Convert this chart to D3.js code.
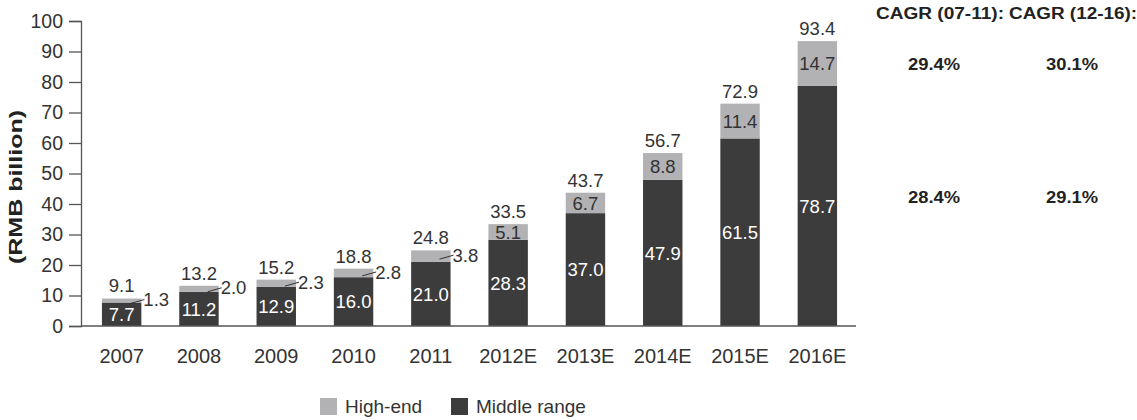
<!DOCTYPE html>
<html>
<head>
<meta charset="utf-8">
<script src="https://cdn.jsdelivr.net/npm/d3@7"></script>
<style>
  body { margin: 0; background: #fff; }
  text { font-family: "Liberation Sans", Arial, sans-serif; }
</style>
</head>
<body>
<div id="chart"></div>
<script>
// stacked bars: middle range + high-end, RMB billion
var years = ['2007','2008','2009','2010','2011','2012E','2013E','2014E','2015E','2016E'];
var middle = [7.7, 11.2, 12.9, 16.0, 21.0, 28.3, 37.0, 47.9, 61.5, 78.7];
var highEnd = [1.3, 2.0, 2.3, 2.8, 3.8, 5.1, 6.7, 8.8, 11.4, 14.7];
var totals = [9.1, 13.2, 15.2, 18.8, 24.8, 33.5, 43.7, 56.7, 72.9, 93.4];
var yTicks = [0,10,20,30,40,50,60,70,80,90,100];
var cagrHeads = ['CAGR (07-11):', 'CAGR (12-16):'];
var cagrHigh = ['29.4%', '30.1%'];
var cagrMid = ['28.4%', '29.1%'];

var width = 1137, height = 420;
var darkCol = '#3c3c3c', greyCol = '#b2b2b5', textCol = '#333';
var fontFam = '"Liberation Sans", Arial, sans-serif';

var svg = d3.select('#chart').append('svg')
    .attr('width', width)
    .attr('height', height);

var x = d3.scaleBand()
    .domain(years)
    .range([83, 856])
    .paddingInner(0.49)
    .paddingOuter(0.245);

var y = d3.scaleLinear()
    .domain([0, 100])
    .range([326, 21]);

// y axis
var yAxis = svg.append('g')
    .attr('transform', 'translate(81,0)')
    .call(d3.axisLeft(y).tickValues(yTicks).tickSize(12).tickPadding(6));
yAxis.select('.domain').attr('stroke', '#555').attr('stroke-width', 1.3);
yAxis.selectAll('.tick line').attr('stroke', '#555').attr('stroke-width', 1.3);
yAxis.selectAll('.tick text')
    .attr('fill', textCol)
    .style('font-size', '19.5px')
    .style('font-family', fontFam);

svg.append('text')
    .attr('transform', 'translate(22,187) rotate(-90)')
    .attr('text-anchor', 'middle')
    .attr('fill', '#222')
    .attr('textLength', 154)
    .attr('lengthAdjust', 'spacingAndGlyphs')
    .style('font-size', '18px')
    .style('font-weight', 'bold')
    .text('(RMB billion)');

// bars
var g = svg.append('g');
years.forEach(function(yr, i) {
    var bx = x(yr), bw = x.bandwidth();
    g.append('rect')
        .attr('x', bx).attr('width', bw)
        .attr('y', y(middle[i])).attr('height', y(0) - y(middle[i]))
        .attr('fill', darkCol);
    g.append('rect')
        .attr('x', bx).attr('width', bw)
        .attr('y', y(middle[i] + highEnd[i])).attr('height', y(middle[i]) - y(middle[i] + highEnd[i]))
        .attr('fill', greyCol);

    // middle value inside dark part
    g.append('text')
        .attr('x', bx + bw / 2)
        .attr('y', (y(0) + y(middle[i])) / 2)
        .attr('dy', '0.36em')
        .attr('text-anchor', 'middle')
        .attr('fill', '#fff')
        .style('font-size', '18.5px')
        .text(middle[i].toFixed(1));

    // high-end value: inside if big enough, else outside with a leader line
    var segMid = (y(middle[i]) + y(middle[i] + highEnd[i])) / 2;
    if (highEnd[i] >= 5) {
        g.append('text')
            .attr('x', bx + bw / 2)
            .attr('y', segMid)
            .attr('dy', '0.36em')
            .attr('text-anchor', 'middle')
            .attr('fill', textCol)
            .style('font-size', '18.5px')
            .text(highEnd[i].toFixed(1));
    } else {
        g.append('line')
            .attr('x1', bx + bw * 0.72).attr('y1', segMid + 3)
            .attr('x2', bx + bw + 3).attr('y2', segMid - 1)
            .attr('stroke', '#333').attr('stroke-width', 1);
        g.append('text')
            .attr('x', bx + bw + 2)
            .attr('y', segMid - 1)
            .attr('dy', '0.36em')
            .attr('fill', textCol)
            .style('font-size', '18.5px')
            .text(highEnd[i].toFixed(1));
    }

    // total above bar
    g.append('text')
        .attr('x', bx + bw / 2)
        .attr('y', y(totals[i]) - 6)
        .attr('text-anchor', 'middle')
        .attr('fill', textCol)
        .style('font-size', '18.5px')
        .text(totals[i].toFixed(1));
});

// x axis
var xAxis = svg.append('g')
    .attr('transform', 'translate(0,326)')
    .call(d3.axisBottom(x).tickSize(0).tickPadding(23));
xAxis.select('.domain').attr('stroke', '#555').attr('stroke-width', 1.3)
    .attr('d', 'M81,0H856');
xAxis.selectAll('.tick text')
    .attr('fill', textCol)
    .style('font-size', '20px')
    .style('font-family', fontFam);

// CAGR columns
var headX = [940, 1073], valX = [934, 1072];
cagrHeads.forEach(function(h, i) {
    svg.append('text')
        .attr('x', headX[i]).attr('y', 19)
        .attr('text-anchor', 'middle')
        .attr('fill', '#222')
        .attr('textLength', 128)
        .attr('lengthAdjust', 'spacingAndGlyphs')
        .style('font-size', '16px').style('font-weight', 'bold')
        .text(h);
    svg.append('text')
        .attr('x', valX[i]).attr('y', 70)
        .attr('text-anchor', 'middle')
        .attr('fill', '#222')
        .attr('textLength', 52)
        .attr('lengthAdjust', 'spacingAndGlyphs')
        .style('font-size', '16px').style('font-weight', 'bold')
        .text(cagrHigh[i]);
    svg.append('text')
        .attr('x', valX[i]).attr('y', 203)
        .attr('text-anchor', 'middle')
        .attr('fill', '#222')
        .attr('textLength', 52)
        .attr('lengthAdjust', 'spacingAndGlyphs')
        .style('font-size', '16px').style('font-weight', 'bold')
        .text(cagrMid[i]);
});

// legend
var legend = [['High-end', greyCol, 320], ['Middle range', darkCol, 451]];
legend.forEach(function(l) {
    svg.append('rect')
        .attr('x', l[2]).attr('y', 398)
        .attr('width', 17).attr('height', 17)
        .attr('fill', l[1]);
    svg.append('text')
        .attr('x', l[2] + 25).attr('y', 413)
        .attr('fill', textCol)
        .style('font-size', '19px')
        .text(l[0]);
});
</script>
</body>
</html>
